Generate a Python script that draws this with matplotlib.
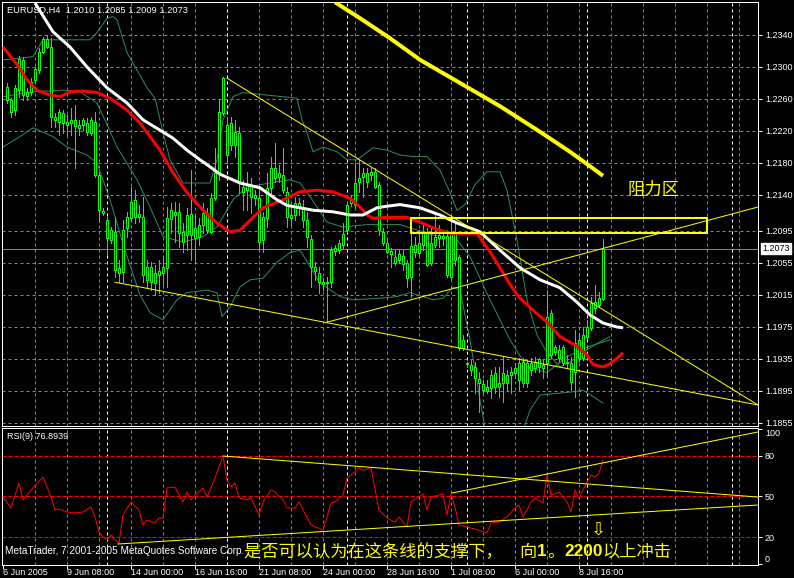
import matplotlib
matplotlib.use("Agg")
import matplotlib.pyplot as plt
from matplotlib.patches import Rectangle

# EURUSD H4, bars 1..150 (bar 150 is the live bar)
opens = [1.2275, 1.2259, 1.2246, 1.2271, 1.2309, 1.2264, 1.2269, 1.2284, 1.2296, 1.2319,
         1.2335, 1.2325, 1.2234, 1.2244, 1.2230, 1.2231, 1.2230, 1.2234, 1.2227, 1.2227,
         1.2230, 1.2217, 1.2231, 1.2165, 1.2117, 1.2109, 1.2084, 1.2094, 1.2049, 1.2044,
         1.2099, 1.2111, 1.2134, 1.2112, 1.2112, 1.2034, 1.2050, 1.2030, 1.2045, 1.2042,
         1.2049, 1.2110, 1.2119, 1.2119, 1.2094, 1.2090, 1.2116, 1.2099, 1.2087, 1.2102,
         1.2117, 1.2094, 1.2136, 1.2167, 1.2242, 1.2227, 1.2202, 1.2219, 1.2217, 1.2150,
         1.2146, 1.2152, 1.2136, 1.2136, 1.2084, 1.2111, 1.2149, 1.2174, 1.2162, 1.2165,
         1.2144, 1.2115, 1.2115, 1.2130, 1.2124, 1.2109, 1.2085, 1.2050, 1.2042, 1.2031,
         1.2030, 1.2031, 1.2070, 1.2071, 1.2077, 1.2096, 1.2130, 1.2127, 1.2156, 1.2162,
         1.2167, 1.2165, 1.2169, 1.2152, 1.2094, 1.2080, 1.2070, 1.2062, 1.2059, 1.2064,
         1.2055, 1.2037, 1.2077, 1.2067, 1.2077, 1.2094, 1.2055, 1.2077, 1.2086, 1.2089,
         1.2089, 1.2037, 1.2094, 1.2062, 1.1949, 1.1930, 1.1927, 1.1925, 1.1910, 1.1904,
         1.1900, 1.1899, 1.1917, 1.1905, 1.1905, 1.1915, 1.1915, 1.1917, 1.1930, 1.1905,
         1.1930, 1.1921, 1.1924, 1.1925, 1.1927, 1.1930, 1.1992, 1.1944, 1.1946, 1.1930,
         1.1931, 1.1930, 1.1919, 1.1959, 1.1936, 1.1962, 1.1974, 1.2006, 1.2002, 1.2010]
highs = [1.2280, 1.2261, 1.2277, 1.2314, 1.2312, 1.2274, 1.2286, 1.2300, 1.2324, 1.2337,
         1.2340, 1.2336, 1.2242, 1.2247, 1.2246, 1.2240, 1.2249, 1.2252, 1.2234, 1.2236,
         1.2236, 1.2237, 1.2244, 1.2167, 1.2124, 1.2112, 1.2100, 1.2112, 1.2059, 1.2109,
         1.2119, 1.2150, 1.2146, 1.2127, 1.2137, 1.2059, 1.2056, 1.2052, 1.2059, 1.2061,
         1.2125, 1.2130, 1.2131, 1.2130, 1.2105, 1.2124, 1.2171, 1.2115, 1.2111, 1.2130,
         1.2124, 1.2142, 1.2199, 1.2259, 1.2287, 1.2237, 1.2237, 1.2234, 1.2225, 1.2159,
         1.2169, 1.2161, 1.2146, 1.2150, 1.2119, 1.2167, 1.2187, 1.2205, 1.2177, 1.2199,
         1.2150, 1.2121, 1.2137, 1.2136, 1.2134, 1.2119, 1.2090, 1.2056, 1.2050, 1.2036,
         1.2037, 1.2075, 1.2077, 1.2084, 1.2105, 1.2131, 1.2140, 1.2180, 1.2184, 1.2174,
         1.2174, 1.2174, 1.2174, 1.2156, 1.2099, 1.2086, 1.2074, 1.2071, 1.2071, 1.2071,
         1.2059, 1.2111, 1.2087, 1.2096, 1.2102, 1.2099, 1.2099, 1.2117, 1.2102, 1.2096,
         1.2096, 1.2112, 1.2106, 1.2065, 1.1965, 1.1931, 1.1934, 1.1931, 1.1919, 1.1909,
         1.1909, 1.1921, 1.1925, 1.1925, 1.1937, 1.1921, 1.1925, 1.1930, 1.1936, 1.1936,
         1.1934, 1.1936, 1.1937, 1.1936, 1.1934, 1.2021, 1.1996, 1.1952, 1.1952, 1.1952,
         1.1940, 1.1937, 1.1971, 1.1967, 1.1975, 1.1984, 1.2012, 1.2027, 1.2019, 1.2085]
lows = [1.2255, 1.2237, 1.2240, 1.2262, 1.2259, 1.2259, 1.2265, 1.2280, 1.2292, 1.2317,
        1.2324, 1.2225, 1.2225, 1.2215, 1.2217, 1.2215, 1.2215, 1.2174, 1.2215, 1.2221,
        1.2215, 1.2215, 1.2162, 1.2106, 1.2115, 1.2065, 1.2080, 1.2037, 1.2031, 1.2031,
        1.2087, 1.2109, 1.2105, 1.2106, 1.2031, 1.2025, 1.2021, 1.2015, 1.2017, 1.2027,
        1.2025, 1.2092, 1.2081, 1.2075, 1.2069, 1.2071, 1.2059, 1.2055, 1.2077, 1.2092,
        1.2092, 1.2092, 1.2134, 1.2159, 1.2240, 1.2180, 1.2196, 1.2187, 1.2142, 1.2121,
        1.2121, 1.2117, 1.2127, 1.2074, 1.2069, 1.2100, 1.2142, 1.2156, 1.2156, 1.2142,
        1.2100, 1.2102, 1.2109, 1.2115, 1.2100, 1.2075, 1.2025, 1.2034, 1.2017, 1.2021,
        1.1981, 1.2025, 1.2065, 1.2067, 1.2074, 1.2094, 1.2126, 1.2124, 1.2144, 1.2137,
        1.2150, 1.2159, 1.2149, 1.2090, 1.2077, 1.2067, 1.2050, 1.2052, 1.2056, 1.2046,
        1.2025, 1.2012, 1.2062, 1.2062, 1.2071, 1.2051, 1.2052, 1.2075, 1.2075, 1.2077,
        1.2037, 1.2034, 1.2052, 1.1946, 1.1946, 1.1925, 1.1915, 1.1892, 1.1869, 1.1892,
        1.1892, 1.1886, 1.1892, 1.1887, 1.1881, 1.1896, 1.1892, 1.1911, 1.1896, 1.1900,
        1.1900, 1.1915, 1.1919, 1.1919, 1.1911, 1.1912, 1.1936, 1.1940, 1.1931, 1.1927,
        1.1924, 1.1896, 1.1887, 1.1931, 1.1934, 1.1961, 1.1971, 1.1992, 1.2000, 1.2009]
closes = [1.2259, 1.2244, 1.2274, 1.2310, 1.2265, 1.2269, 1.2281, 1.2297, 1.2319, 1.2335,
          1.2325, 1.2237, 1.2237, 1.2231, 1.2242, 1.2227, 1.2234, 1.2226, 1.2224, 1.2234,
          1.2219, 1.2234, 1.2165, 1.2121, 1.2120, 1.2086, 1.2096, 1.2046, 1.2042, 1.2096,
          1.2112, 1.2131, 1.2112, 1.2116, 1.2040, 1.2050, 1.2031, 1.2042, 1.2040, 1.2050,
          1.2111, 1.2121, 1.2115, 1.2092, 1.2081, 1.2115, 1.2090, 1.2086, 1.2102, 1.2117,
          1.2096, 1.2136, 1.2167, 1.2244, 1.2286, 1.2190, 1.2230, 1.2202, 1.2155, 1.2144,
          1.2152, 1.2137, 1.2140, 1.2081, 1.2112, 1.2149, 1.2174, 1.2161, 1.2167, 1.2146,
          1.2112, 1.2111, 1.2130, 1.2124, 1.2109, 1.2087, 1.2050, 1.2045, 1.2031, 1.2029,
          1.2031, 1.2071, 1.2074, 1.2080, 1.2091, 1.2127, 1.2135, 1.2155, 1.2161, 1.2167,
          1.2156, 1.2169, 1.2150, 1.2096, 1.2080, 1.2069, 1.2066, 1.2055, 1.2066, 1.2054,
          1.2036, 1.2076, 1.2069, 1.2080, 1.2094, 1.2052, 1.2080, 1.2087, 1.2090, 1.2086,
          1.2040, 1.2094, 1.2059, 1.1949, 1.1959, 1.1929, 1.1921, 1.1911, 1.1905, 1.1896,
          1.1895, 1.1915, 1.1900, 1.1900, 1.1917, 1.1905, 1.1919, 1.1924, 1.1909, 1.1931,
          1.1905, 1.1930, 1.1931, 1.1935, 1.1924, 1.1987, 1.1940, 1.1950, 1.1936, 1.1950,
          1.1930, 1.1906, 1.1955, 1.1936, 1.1965, 1.1975, 1.2005, 1.1999, 1.2011, 1.2073]
bars = list(range(1, len(closes) + 1))

# indicator lines as (bar, price) points
white_ma_bar = [8, 12.5, 16.75, 21, 26, 31, 35, 39.25, 42.5, 46, 49.25, 51, 54.25, 59.25, 64.25,
                68.5, 71, 74.25, 77.5, 82.5, 86.75, 90, 93.5, 96, 99.25, 104.25, 109.25, 113.5,
                119.25, 124.25, 129.25, 134.25, 139.25, 143.5, 146.75, 150, 153.5, 155]
white_ma = [1.2380, 1.2344, 1.2325, 1.2300, 1.2274, 1.2255, 1.2234, 1.2221, 1.2211, 1.2196,
            1.2184, 1.2178, 1.2166, 1.2155, 1.2149, 1.2134, 1.2127, 1.2124, 1.2121, 1.2119,
            1.2115, 1.2115, 1.2124, 1.2126, 1.2128, 1.2124, 1.2115, 1.2105, 1.2094, 1.2071,
            1.2049, 1.2034, 1.2024, 1.2006, 1.1990, 1.1980, 1.1975, 1.1974]
red_ma_bar = [0, 3.5, 6, 8.5, 11.75, 14.25, 16.75, 20, 23.5, 26.75, 31, 34.25, 36.75, 39.25,
              42.5, 46, 50, 53.5, 56.75, 59.25, 62.5, 65, 70, 74.25, 78.5, 82.5, 86.75, 89.25,
              91, 92.5, 96, 101, 104.25, 107.5, 111.75, 118.5, 121.75, 124.25, 126.75, 129.25,
              132.5, 136, 139.25, 143.5, 146, 147.5, 150, 151.75, 153.5, 155]
red_ma = [1.2325, 1.2303, 1.2284, 1.2271, 1.2265, 1.2263, 1.2269, 1.2270, 1.2268, 1.2261,
          1.2246, 1.2230, 1.2213, 1.2196, 1.2168, 1.2143, 1.2121, 1.2105, 1.2094, 1.2096,
          1.2112, 1.2124, 1.2134, 1.2144, 1.2146, 1.2144, 1.2136, 1.2125, 1.2115, 1.2111,
          1.2112, 1.2112, 1.2106, 1.2099, 1.2092, 1.2092, 1.2069, 1.2049, 1.2028, 1.2011,
          1.1996, 1.1981, 1.1963, 1.1951, 1.1940, 1.1928, 1.1925, 1.1929, 1.1936, 1.1943]
slow_ma_bar = [83, 89.25, 96.75, 104.25, 114.25, 124.25, 134.25, 141.75, 146.75, 150]
slow_ma = [1.2381, 1.2361, 1.2336, 1.2309, 1.2280, 1.2251, 1.2219, 1.2194, 1.2176, 1.2164]

upper_bar = [0, 4.25, 7.5, 10, 16, 21.75, 23.5, 26, 27.5, 28.5, 31, 33.5, 36, 38, 40, 41.75,
             45, 51.75, 53.5, 55, 57.5, 60, 73.5, 74.75, 76, 77.5, 80, 83.5, 86, 88.5, 92.5,
             96, 99.25, 102.5, 106, 109.25, 111.75, 113.5, 115.5, 118, 121, 124.25, 126,
             128.5, 131, 133.5, 136, 139.25, 141.75, 145, 148, 151.75]
upper = [1.2309, 1.2311, 1.2313, 1.2334, 1.2334, 1.2334, 1.2343, 1.2361, 1.2363, 1.2359,
         1.2318, 1.2296, 1.2274, 1.2261, 1.2218, 1.2184, 1.2155, 1.2155, 1.2184, 1.2234,
         1.2263, 1.2268, 1.2261, 1.2234, 1.2218, 1.2194, 1.2200, 1.2194, 1.2184, 1.2184,
         1.2199, 1.2196, 1.2190, 1.2188, 1.2188, 1.2171, 1.2143, 1.2121, 1.2128, 1.2153,
         1.2169, 1.2169, 1.2146, 1.2084, 1.2009, 1.1965, 1.1943, 1.1925, 1.1931, 1.1943,
         1.1953, 1.1963]
middle_bar = [0, 7.5, 15, 19.25, 23.5, 26, 28.5, 33.5, 36.75, 40, 45, 50, 53.5, 57.5, 61,
              66.75, 71.75, 74.25, 76.75, 81, 85, 91, 99.25, 107.5, 113.5, 116.75, 121.75,
              126.75, 131, 136, 141, 146, 151.75]
middle = [1.2263, 1.2269, 1.2271, 1.2269, 1.2255, 1.2228, 1.2200, 1.2159, 1.2125, 1.2088,
          1.2081, 1.2088, 1.2100, 1.2134, 1.2150, 1.2155, 1.2159, 1.2155, 1.2138, 1.2106,
          1.2100, 1.2103, 1.2103, 1.2090, 1.2084, 1.2063, 1.2009, 1.1959, 1.1925, 1.1918,
          1.1938, 1.1950, 1.1959]
lower_bar = [0, 4.25, 7.5, 12.5, 16, 21, 23.5, 26.75, 30.5, 34.25, 36.75, 40, 43.5, 46, 51,
             53.5, 54.75, 56.75, 59.25, 61.75, 65, 68.5, 71.75, 74.25, 79.25, 84.25, 87.5,
             94.25, 98.5, 101.75, 107.5, 110, 112.5, 114.25, 116.75, 119.25, 121, 129.25,
             131.75, 134.25, 142.5, 145, 150]
lower = [1.2200, 1.2213, 1.2224, 1.2213, 1.2200, 1.2190, 1.2180, 1.2134, 1.2071, 1.2015,
         1.1993, 1.1984, 1.2009, 1.2018, 1.2021, 1.2018, 1.1988, 1.2000, 1.2025, 1.2034,
         1.2036, 1.2056, 1.2068, 1.2071, 1.2030, 1.2013, 1.2009, 1.2011, 1.2013, 1.2018,
         1.2009, 1.2011, 1.2025, 1.2021, 1.1959, 1.1884, 1.1834, 1.1834, 1.1871, 1.1890,
         1.1894, 1.1896, 1.1880]

# RSI(9) sampled along the bars
rsi_bar = [0, 2, 4, 5, 7, 10, 12, 13, 14, 16, 18, 20, 22, 23, 24, 25, 26, 27, 28, 29,
           30, 32, 34, 35, 36, 38, 39, 40, 41, 43, 45, 46, 47, 48, 50, 51, 53, 55, 56, 57,
           58, 59, 61, 62, 64, 65, 67, 68, 70, 71, 73, 74, 75, 77, 80, 82, 83, 85, 86, 87,
           89, 90, 92, 94, 96, 98, 99, 101, 102, 105, 106, 107, 110, 111, 112, 113, 114, 116,
           118, 121, 122, 124, 126, 128, 129, 130, 132, 133, 135, 136, 137, 139, 141, 142,
           143, 144, 146, 147, 148, 149, 150]
rsi = [49.6, 41.5, 60.0, 47.4, 54.8, 64.4, 49.6, 40.0, 40.7, 38.5, 37.8, 38.5, 42.2, 34.8,
       23.7, 20.0, 17.8, 21.5, 17.8, 15.6, 36.3, 46.0, 40.0, 28.9, 32.6, 30.4, 34.0, 34.0,
       56.3, 57.0, 46.0, 53.3, 47.4, 51.0, 56.3, 49.6, 63.7, 80.0, 62.2, 57.0, 60.0, 48.9,
       47.4, 48.9, 36.3, 46.0, 54.8, 53.3, 47.4, 41.5, 41.5, 46.0, 40.0, 28.9, 25.2, 45.2,
       46.0, 51.0, 63.7, 65.9, 71.1, 69.6, 71.1, 40.0, 34.0, 31.1, 34.8, 27.4, 46.0, 51.9,
       40.0, 49.6, 51.9, 36.3, 51.9, 42.2, 28.9, 27.4, 25.9, 23.0, 30.4, 31.1, 34.8, 41.5,
       43.7, 34.8, 46.0, 48.9, 45.2, 65.9, 51.0, 53.3, 46.0, 38.5, 54.8, 48.9, 60.7, 65.9,
       64.4, 67.4, 76.8939]

# drawn objects: trend lines (bar, price) pairs and the resistance box
price_lines = [((56, 1.2286), (188.75, 1.18775)),
               ((28, 1.2031), (188.75, 1.18775)),
               ((81, 1.1981), (188.75, 1.2125))]
rsi_lines = [((55, 80.0), (188.75, 49.6)),
             ((28.75, 14.8), (188.75, 43.7)),
             ((112.25, 52.6), (188.75, 97.8))]
zone_left, zone_right = 102, 176
zone_low, zone_high = 1.2093, 1.2111

price_ticks = [1.2340, 1.2300, 1.2260, 1.2220, 1.2180, 1.2140, 1.2095, 1.2055,
               1.2015, 1.1975, 1.1935, 1.1895, 1.1855]
rsi_ticks = [100, 80, 50, 20, 0]
rsi_levels = [80, 50, 20]
date_ticks = [0, 16, 32, 48, 64, 80, 96, 112, 128, 144]
date_labels = ["6 Jun 2005", "9 Jun 08:00", "14 Jun 00:00", "16 Jun 16:00", "21 Jun 08:00",
               "24 Jun 00:00", "28 Jun 16:00", "1 Jul 08:00", "6 Jul 00:00", "8 Jul 16:00"]
week_starts = [26, 56, 86, 116, 146, 182.25]

W, H = 794, 578
PX = 0.72  # one pixel in points
LIME = "#00ff00"
GRID = "#778899"
BAND = "#2e8b57"
YELLOW = "#ffff00"
CJK = ["Noto Sans CJK SC", "DejaVu Sans"]

plt.rcParams["font.family"] = ["Liberation Sans", "DejaVu Sans"]
plt.rcParams["font.size"] = 6.5

fig = plt.figure(figsize=(W / 100, H / 100), dpi=100, facecolor="black")


def panel(left, top, right, bottom):
    a = fig.add_axes([left / W, 1 - bottom / H, (right - left) / W, (bottom - top) / H])
    a.set_facecolor("black")
    for s in a.spines.values():
        s.set_color("white")
        s.set_linewidth(PX)
    a.set_xlim(-0.25, 188.75)
    return a


ax = panel(2, 2, 758, 426)
rax = panel(2, 428, 758, 565)
ax.set_ylim(1.185125, 1.238125)
rax.set_ylim(-0.74, 100.74)

dash = (0, (3, 3))
for a in (ax, rax):
    for x in range(8, 189, 8):
        a.axvline(x, color=GRID, lw=PX, ls=dash, zorder=1)
    for x in week_starts:
        a.axvline(x, color="white", lw=PX, ls=dash, zorder=1)
for p in price_ticks:
    ax.axhline(p, color=GRID, lw=PX, ls=dash, zorder=1)
for lv in rsi_levels:
    rax.axhline(lv, color="red", lw=PX, ls=(0, (4, 2)), zorder=1)

# bollinger bands
for xs, ys in ((upper_bar, upper), (middle_bar, middle), (lower_bar, lower)):
    ax.plot(xs, ys, color=BAND, lw=PX, zorder=2)

# candles
ax.vlines(bars, lows, highs, color=LIME, lw=PX, zorder=3, antialiased=False)
bottoms = [min(o, c) for o, c in zip(opens, closes)]
heights = [max(abs(c - o), 0.00002) for o, c in zip(opens, closes)]
ax.bar(bars, heights, bottom=bottoms, width=0.6, facecolor="black", edgecolor=LIME,
       linewidth=PX, zorder=3.5, antialiased=False)

# moving averages
ax.plot(red_ma_bar, red_ma, color="red", lw=3 * PX, zorder=4, solid_capstyle="butt")
ax.plot(white_ma_bar, white_ma, color="white", lw=3 * PX, zorder=4, solid_capstyle="butt")
ax.plot(slow_ma_bar, slow_ma, color=YELLOW, lw=4 * PX, zorder=4, solid_capstyle="butt")

# trend lines and resistance box
for (x0, y0), (x1, y1) in price_lines:
    ax.plot([x0, x1], [y0, y1], color=YELLOW, lw=PX, zorder=5)
ax.add_patch(Rectangle((zone_left, zone_low), zone_right - zone_left, zone_high - zone_low,
                       fill=False, ec=YELLOW, lw=2 * PX, zorder=5))
ax.text(162.75, 1.2146, "阻力区", color=YELLOW, family=CJK,
        fontsize=12.5, ha="center", va="center", zorder=6)

# last price line and marker
last = closes[-1]
ax.axhline(last, color=GRID, lw=PX, zorder=2)
ax.annotate(f"{last:.4f}", xy=(1, last), xycoords=("axes fraction", "data"),
            xytext=(4, 0), textcoords="offset pixels", ha="left", va="center",
            color="black", bbox=dict(boxstyle="square,pad=0.12", fc="white", ec="white"),
            annotation_clip=False)

ax.set_xticks([])
ax.yaxis.tick_right()
ax.set_yticks(price_ticks)
ax.set_yticklabels([f"{p:.4f}" for p in price_ticks])
ax.tick_params(axis="y", colors="white", length=3, width=PX, pad=2)

title = f"EURUSD,H4  {opens[-1]:.4f} {highs[-1]:.4f} {lows[-1]:.4f} {closes[-1]:.4f}"
ax.annotate(title, xy=(0, 1), xycoords="axes fraction", xytext=(5, -4),
            textcoords="offset pixels", ha="left", va="top", color="white", fontsize=6.7)

# RSI panel
rax.plot(rsi_bar, rsi, color="red", lw=PX, zorder=3)
for (x0, y0), (x1, y1) in rsi_lines:
    rax.plot([x0, x1], [y0, y1], color=YELLOW, lw=PX, zorder=4)

rax.yaxis.tick_right()
rax.set_yticks(rsi_ticks)
rax.set_yticklabels([str(v) for v in rsi_ticks])
rax.tick_params(axis="y", colors="white", length=3, width=PX, pad=2)
for lbl, v in zip(rax.get_yticklabels(), rsi_ticks):
    if v == 100:
        lbl.set_va("top")
    elif v == 0:
        lbl.set_va("bottom")

rax.set_xticks(date_ticks)
rax.set_xticklabels(date_labels)
rax.tick_params(axis="x", colors="white", length=3, width=PX, pad=-1)
for lbl in rax.get_xticklabels():
    lbl.set_ha("left")

rax.annotate(f"RSI(9) {rsi[-1]:.4f}", xy=(0, 1), xycoords="axes fraction", xytext=(5, -4),
             textcoords="offset pixels", ha="left", va="top", color="white")
rax.annotate("MetaTrader, 7 2001-2005 MetaQuotes Software Corp.", xy=(0, 0),
             xycoords="axes fraction", xytext=(3, 14), textcoords="offset pixels",
             ha="left", va="center", color="white", fontsize=7.2)

note = [("是否可以认为在这条线的支撑下，　向", CJK, "normal"),
        ("1", ["Liberation Sans"], "bold"),
        ("。", CJK, "normal"),
        ("2200", ["Liberation Sans"], "bold"),
        ("以上冲击", CJK, "normal")]
prev = rax.annotate(note[0][0], xy=(0, 0), xycoords="axes fraction", xytext=(242, 13),
                    textcoords="offset pixels", ha="left", va="center", color=YELLOW,
                    family=note[0][1], fontsize=12.4)
for txt, fam, wt in note[1:]:
    prev = rax.annotate(txt, xy=(1, 0.5), xycoords=prev, ha="left", va="center",
                        color=YELLOW, family=fam, fontweight=wt, fontsize=12.4)
rax.text(148.75, 25.2, "⇩", color=YELLOW, family=["DejaVu Sans"], fontsize=13,
         ha="center", va="center")

fig.savefig("out.png", dpi=100, facecolor="black")
